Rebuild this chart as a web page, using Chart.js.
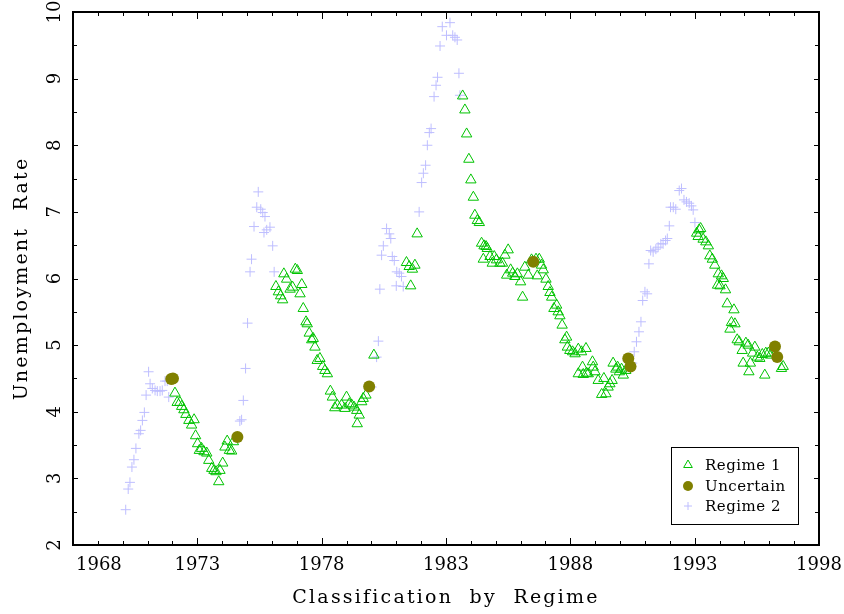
<!DOCTYPE html>
<html>
<head>
<meta charset="utf-8">
<script src="https://cdn.jsdelivr.net/npm/chart.js@4/dist/chart.umd.min.js"></script>
<style>
  body { margin: 0; background: #fff; }
  canvas { display: block; }
</style>
</head>
<body>
<canvas id="regimeChart" width="844" height="614"></canvas>
<script>
// values (year, unemployment rate)
var regime1Years = [1972.10,1972.19,1972.30,1972.37,1972.46,1972.54,1972.66,1972.77,1972.87,1972.93,1973.01,1973.08,1973.17,1973.27,1973.38,1973.46,1973.58,1973.67,1973.75,1973.86,1973.91,1974.02,1974.11,1974.20,1974.29,1974.38,1974.45,
  1976.16,1976.26,1976.35,1976.43,1976.48,1976.59,1976.73,1976.83,1976.94,1977.02,1977.13,1977.20,1977.26,1977.37,1977.42,1977.50,1977.60,1977.66,1977.73,1977.82,1977.93,1978.04,1978.13,1978.23,1978.35,1978.43,1978.53,1978.63,1978.80,1978.94,1979.00,1979.11,1979.21,1979.30,1979.41,1979.43,1979.51,1979.61,1979.67,1979.78,1980.10,
  1981.41,1981.52,1981.58,1981.65,1981.75,1981.84,
  1983.67,1983.76,1983.83,1983.92,1984.00,1984.10,1984.16,1984.26,1984.34,1984.43,1984.50,1984.53,1984.61,1984.66,1984.77,1984.86,1984.94,1985.03,1985.17,1985.27,1985.37,1985.44,1985.50,1985.60,1985.68,1985.77,1985.87,1986.00,1986.08,1986.17,1986.31,1986.44,1986.62,1986.67,1986.75,1986.84,1986.91,1987.02,1987.11,1987.18,1987.25,1987.34,1987.45,1987.51,1987.58,1987.67,1987.78,1987.85,1987.88,1987.98,1988.09,1988.19,1988.32,1988.32,1988.45,1988.49,1988.52,1988.63,1988.65,1988.72,1988.89,1988.92,1988.99,1989.12,1989.26,1989.35,1989.43,1989.52,1989.59,1989.68,1989.72,1989.83,1989.90,1989.97,1990.06,1990.13,1990.23,
  1993.08,1993.14,1993.18,1993.24,1993.34,1993.45,1993.55,1993.61,1993.71,1993.81,1993.92,1993.95,1994.02,1994.08,1994.15,1994.24,1994.31,1994.42,1994.48,1994.58,1994.62,1994.71,1994.79,1994.91,1994.95,1995.06,1995.15,1995.18,1995.24,1995.33,1995.42,1995.52,1995.62,1995.72,1995.82,1995.86,1995.96,1996.05,1996.49,1996.56];
var regime1Rates = [4.28,4.14,4.14,4.08,4.03,3.96,3.87,3.80,3.88,3.64,3.52,3.42,3.45,3.40,3.38,3.27,3.15,3.12,3.10,2.95,3.12,3.23,3.47,3.56,3.42,3.41,3.55,
  5.88,5.80,5.74,5.68,6.07,5.99,5.84,5.87,6.14,6.12,5.77,5.91,5.55,5.35,5.32,5.18,5.08,5.10,4.97,4.77,4.80,4.68,4.62,4.57,4.31,4.22,4.06,4.10,4.10,4.05,4.22,4.12,4.10,4.07,4.02,3.82,3.95,4.15,4.20,4.25,4.85,
  6.24,6.18,5.89,6.14,6.20,6.67,
  8.74,8.53,8.17,7.79,7.48,7.22,6.95,6.87,6.84,6.53,6.29,6.49,6.48,6.45,6.33,6.23,6.33,6.28,6.23,6.23,6.35,6.05,6.43,6.13,6.08,6.03,6.07,5.95,5.72,6.17,6.05,6.28,6.29,6.04,6.29,6.20,6.13,5.99,5.88,5.79,5.72,5.55,5.60,5.50,5.44,5.30,5.08,5.12,4.97,4.92,4.90,4.87,4.94,4.57,4.90,4.67,4.56,4.95,4.58,4.57,4.75,4.67,4.60,4.47,4.26,4.50,4.27,4.37,4.42,4.47,4.73,4.64,4.67,4.60,4.64,4.55,4.62,
  6.68,6.63,6.73,6.75,6.59,6.55,6.49,6.34,6.29,6.20,5.90,6.07,5.89,6.04,6.00,5.83,5.62,5.24,5.34,5.53,5.32,5.08,5.05,4.92,4.73,5.03,5.00,4.60,4.73,4.88,4.97,4.82,4.80,4.86,4.55,4.88,4.88,4.85,4.65,4.68];

var uncertainYears = [1971.95,1972.02,1974.61,1979.91,1986.51,1990.33,1990.42,1996.23,1996.32];
var uncertainRates = [4.49,4.50,3.62,4.38,6.25,4.80,4.68,4.98,4.82];

var regime2Years = [1970.12,1970.22,1970.29,1970.37,1970.45,1970.53,1970.65,1970.72,1970.79,1970.87,1970.94,1971.04,1971.10,1971.19,1971.30,1971.39,1971.50,1971.59,1971.70,1971.79,1971.85,
  1974.71,1974.78,1974.85,1974.94,1975.02,1975.12,1975.18,1975.28,1975.39,1975.45,1975.55,1975.63,1975.68,1975.72,1975.79,1975.92,1976.03,1976.09,
  1980.01,1980.21,1980.28,1980.34,1980.41,1980.48,1980.61,1980.72,1980.78,1980.84,1980.92,1981.00,1981.02,1981.12,1981.21,1981.28,
  1981.92,1982.02,1982.09,1982.18,1982.25,1982.33,1982.40,1982.52,1982.60,1982.66,1982.76,1982.85,1983.02,1983.16,1983.27,1983.36,1983.45,1983.52,1983.56,
  1990.49,1990.57,1990.66,1990.76,1990.84,1990.91,1991.00,1991.09,1991.16,1991.23,1991.33,1991.44,1991.53,1991.64,1991.73,1991.83,1991.90,1991.98,1992.03,1992.14,1992.24,1992.38,1992.47,1992.57,1992.67,1992.78,1992.87,1992.94,1993.01];
var regime2Rates = [2.53,2.84,2.94,3.17,3.28,3.45,3.67,3.72,3.87,3.99,4.25,4.60,4.42,4.35,4.32,4.31,4.31,4.32,4.46,4.46,4.22,
  3.86,3.88,4.17,4.65,5.33,6.10,6.29,6.78,7.07,7.30,7.04,6.99,6.69,6.93,6.73,6.77,6.49,6.10,
  4.37,4.82,5.06,5.84,6.35,6.49,6.75,6.67,6.60,6.33,6.27,5.89,6.10,6.08,6.03,5.88,
  7.00,7.44,7.58,7.70,8.00,8.19,8.25,8.73,8.90,9.02,9.49,9.78,9.65,9.84,9.65,9.62,9.58,9.08,8.75,
  4.73,4.90,5.05,5.20,5.35,5.67,5.80,5.77,6.22,6.42,6.40,6.44,6.47,6.52,6.52,6.57,6.60,6.79,7.07,7.07,7.04,7.32,7.35,7.18,7.15,7.13,7.09,7.03,6.84];

var xTickLabels = ['1968', '1973', '1978', '1983', '1988', '1993', '1998'];
var yTickLabels = ['2', '3', '4', '5', '6', '7', '8', '9', '10'];
var seriesNames = ['Regime 1', 'Uncertain', 'Regime 2'];

var green = 'rgb(0,195,0)';
var olive = 'rgb(128,128,0)';
var lavender = 'rgb(190,190,255)';
var serif = '"DejaVu Serif", serif';

function toPoints(xs, ys) {
  return xs.map(function (x, i) { return { x: x, y: ys[i] }; });
}

// frame, inward ticks, tick labels, titles and the boxed legend
var framePlugin = {
  id: 'frame',
  afterDraw: function (chart) {
    var ctx = chart.ctx, a = chart.chartArea;
    var xs = chart.scales.x, ys = chart.scales.y;
    ctx.save();
    ctx.strokeStyle = '#000';
    ctx.lineWidth = 1;
    var v, px, len;
    for (v = 1968; v <= 1998; v++) {
      px = Math.round(xs.getPixelForValue(v)) + 0.5;
      len = (v - 1968) % 5 === 0 ? 7 : 4;
      ctx.beginPath();
      ctx.moveTo(px, a.bottom); ctx.lineTo(px, a.bottom - len);
      ctx.moveTo(px, a.top); ctx.lineTo(px, a.top + len);
      ctx.stroke();
    }
    for (v = 2; v <= 10; v += 0.5) {
      px = Math.round(ys.getPixelForValue(v)) + 0.5;
      len = v % 1 === 0 ? 5 : 4;
      ctx.beginPath();
      ctx.moveTo(a.left, px); ctx.lineTo(a.left + len, px);
      ctx.moveTo(a.right, px); ctx.lineTo(a.right - len, px);
      ctx.stroke();
    }
    ctx.lineWidth = 2;
    ctx.strokeRect(a.left, a.top, a.right - a.left, a.bottom - a.top);

    ctx.fillStyle = '#000';
    ctx.font = '18px ' + serif;
    ctx.textBaseline = 'middle';
    xTickLabels.forEach(function (t, i) {
      var p = xs.getPixelForValue(Number(t));
      if (i === 0) { ctx.textAlign = 'left'; p += 3; } else { ctx.textAlign = 'center'; }
      ctx.fillText(t, p, 565);
    });
    ctx.textAlign = 'center';
    yTickLabels.forEach(function (t) {
      var p = ys.getPixelForValue(Number(t));
      ctx.save();
      ctx.translate(55, p);
      ctx.rotate(-Math.PI / 2);
      ctx.fillText(t, 0, 0);
      ctx.restore();
    });

    ctx.font = '19px ' + serif;
    ctx.letterSpacing = '2.2px';
    ctx.fillText('Classification  by  Regime', (a.left + a.right) / 2, 598);
    ctx.save();
    ctx.translate(22, (a.top + a.bottom) / 2);
    ctx.rotate(-Math.PI / 2);
    ctx.fillText('Unemployment  Rate', 0, 0);
    ctx.restore();

    // legend box
    var bx = 671, by = 447, bw = 127, bh = 77;
    ctx.letterSpacing = '0.5px';
    ctx.fillStyle = '#fff';
    ctx.fillRect(bx, by, bw, bh);
    ctx.lineWidth = 1;
    ctx.strokeStyle = '#000';
    ctx.strokeRect(bx + 0.5, by + 0.5, bw, bh);
    ctx.font = '15px ' + serif;
    ctx.textAlign = 'left';
    var styles = chart.data.datasets;
    [465, 486, 506].forEach(function (ly, i) {
      var ds = styles[i];
      ctx.save();
      ctx.lineWidth = ds.borderWidth;
      ctx.strokeStyle = ds.borderColor;
      ctx.fillStyle = ds.backgroundColor;
      Chart.helpers.drawPoint(ctx, { pointStyle: ds.pointStyle, radius: ds.legendRadius, borderWidth: ds.borderWidth }, 688, ly);
      ctx.restore();
      ctx.fillStyle = '#000';
      ctx.fillText(seriesNames[i], 705, ly + 1);
    });
    ctx.restore();
  }
};

new Chart(document.getElementById('regimeChart').getContext('2d'), {
  type: 'scatter',
  data: {
    datasets: [
      {
        label: seriesNames[0],
        data: toPoints(regime1Years, regime1Rates),
        pointStyle: 'triangle',
        pointRadius: 6,
        legendRadius: 5,
        borderWidth: 1,
        borderColor: green,
        backgroundColor: 'rgba(0,0,0,0)',
        order: 1
      },
      {
        label: seriesNames[1],
        data: toPoints(uncertainYears, uncertainRates),
        pointStyle: 'circle',
        pointRadius: 6,
        legendRadius: 5,
        borderWidth: 0,
        borderColor: olive,
        backgroundColor: olive,
        order: 0
      },
      {
        label: seriesNames[2],
        data: toPoints(regime2Years, regime2Rates),
        pointStyle: 'cross',
        pointRadius: 5,
        legendRadius: 4,
        borderWidth: 1,
        borderColor: lavender,
        backgroundColor: lavender,
        order: 2
      }
    ]
  },
  options: {
    responsive: false,
    animation: false,
    devicePixelRatio: 1,
    layout: { padding: { left: 73, right: 25, top: 12, bottom: 69 } },
    plugins: { legend: { display: false }, tooltip: { enabled: false } },
    scales: {
      x: { type: 'linear', min: 1968, max: 1998, display: false },
      y: { type: 'linear', min: 2, max: 10, display: false }
    }
  },
  plugins: [framePlugin]
});
</script>
</body>
</html>
